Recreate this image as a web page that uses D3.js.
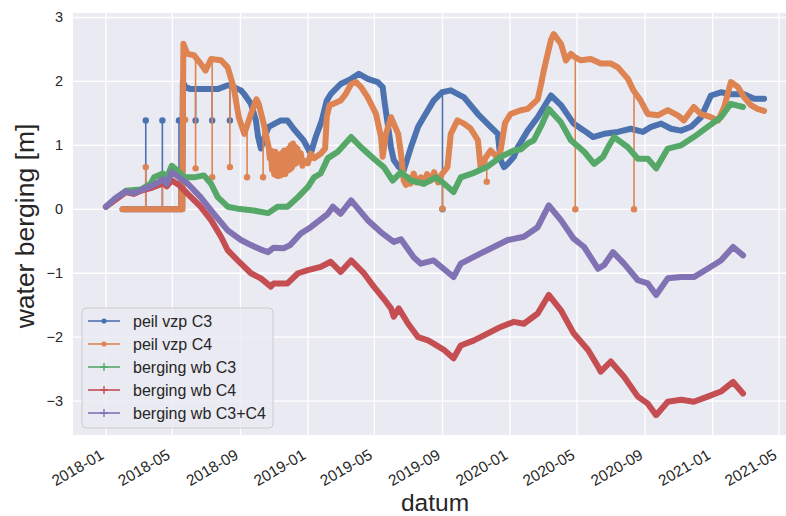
<!DOCTYPE html>
<html>
<head>
<meta charset="utf-8">
<script src="https://cdn.jsdelivr.net/npm/d3@7"></script>
<style>
  body { margin: 0; background: #fff; }
  text { font-family: "Liberation Sans", Arial, sans-serif; fill: #262626; }
</style>
</head>
<body>
<svg id="chart" width="786" height="516"></svg>
<script>
// Water level of the pumps (peil vzp) and storage of the water bodies (berging wb), metres
const peilC3 = [
  ["2018-01-31",0],["2018-05-19",0],["2018-05-20",1.99],["2018-05-25",1.91],["2018-06-03",1.88],
  ["2018-06-27",1.88],["2018-07-22",1.88],["2018-08-09",1.94],["2018-08-20",1.91],["2018-09-02",1.86],
  ["2018-09-08",1.80],["2018-09-20",1.65],["2018-09-29",1.39],["2018-10-03",1.13],["2018-10-08",0.95],
  ["2018-10-11",1.05],["2018-10-22",1.29],["2018-11-13",1.39],["2018-11-25",1.39],["2018-12-06",1.26],
  ["2018-12-24",1.08],["2019-01-06",0.87],["2019-01-15",1.13],["2019-01-26",1.39],["2019-02-04",1.70],
  ["2019-02-11",1.80],["2019-03-01",1.96],["2019-03-20",2.04],["2019-04-03",2.12],["2019-04-19",2.04],
  ["2019-05-07",1.99],["2019-05-16",1.91],["2019-05-19",1.70],["2019-05-25",1.34],["2019-05-31",0.97],
  ["2019-06-05",0.77],["2019-06-14",0.66],["2019-06-23",0.61],["2019-07-06",0.97],["2019-07-19",1.29],
  ["2019-07-29",1.44],["2019-08-16",1.70],["2019-08-31",1.83],["2019-09-16",1.86],["2019-10-10",1.75],
  ["2019-11-04",1.49],["2019-11-27",1.29],["2019-12-10",1.18],["2019-12-15",0.77],["2019-12-21",0.66],
  ["2019-12-28",0.71],["2020-01-08",0.82],["2020-01-15",0.97],["2020-02-02",1.23],["2020-02-20",1.44],
  ["2020-03-15",1.78],["2020-04-02",1.63],["2020-04-25",1.34],["2020-05-14",1.23],["2020-05-30",1.13],
  ["2020-06-19",1.18],["2020-07-14",1.21],["2020-08-06",1.26],["2020-08-28",1.21],["2020-09-12",1.29],
  ["2020-09-30",1.34],["2020-10-18",1.26],["2020-11-05",1.23],["2020-11-23",1.29],["2020-12-11",1.44],
  ["2020-12-29",1.78],["2021-01-16",1.83],["2021-02-03",1.80],["2021-02-27",1.80],["2021-03-17",1.73],
  ["2021-04-04",1.73]
];
const peilC3Outliers = [
  ["2018-03-14",1.39],["2018-04-13",1.39],["2018-05-13",1.39],["2018-06-12",1.39],
  ["2018-07-12",1.39],["2018-08-13",1.39],["2019-09-01",0.0]
];

const peilC4 = [
  ["2018-01-31",0],["2018-05-19",0],["2018-05-20",1.40],["2018-05-21",2.59],["2018-05-28",2.43],
  ["2018-06-09",2.41],["2018-06-21",2.28],["2018-06-30",2.17],["2018-07-10",2.35],["2018-07-28",2.33],
  ["2018-08-09",2.22],["2018-08-20",1.90],["2018-08-29",1.44],["2018-09-08",1.18],["2018-09-20",1.49],
  ["2018-09-30",1.72],["2018-10-04",1.65],["2018-10-13",1.34],["2018-10-22",0.97],["2018-10-24",0.80],
  ["2018-10-26",0.92],["2018-10-28",0.62],["2018-10-30",0.88],["2018-11-01",0.55],["2018-11-03",0.90],
  ["2018-11-05",0.53],["2018-11-07",0.86],["2018-11-09",0.52],["2018-11-11",0.84],["2018-11-13",0.53],
  ["2018-11-15",0.88],["2018-11-17",0.55],["2018-11-19",0.92],["2018-11-21",0.55],["2018-11-23",0.90],
  ["2018-11-25",0.60],["2018-11-27",0.95],["2018-11-29",0.62],["2018-12-01",1.00],["2018-12-03",0.65],
  ["2018-12-05",1.03],["2018-12-07",0.70],["2018-12-09",0.98],["2018-12-11",0.72],["2018-12-13",0.95],
  ["2018-12-16",0.80],["2018-12-19",0.88],["2018-12-22",0.68],["2018-12-26",0.76],["2019-01-01",0.72],
  ["2019-01-06",0.87],["2019-01-12",0.80],["2019-01-24",0.87],["2019-02-01",0.95],["2019-02-04",1.45],
  ["2019-02-09",1.63],["2019-02-16",1.65],["2019-03-01",1.70],["2019-03-10",1.80],["2019-03-20",1.96],
  ["2019-03-29",1.99],["2019-04-07",1.91],["2019-04-19",1.75],["2019-05-04",1.49],["2019-05-13",1.13],
  ["2019-05-16",0.82],["2019-05-22",1.18],["2019-05-31",1.44],["2019-06-13",1.18],["2019-06-18",0.87],
  ["2019-06-23",0.45],["2019-06-27",0.38],["2019-07-01",0.50],["2019-07-05",0.40],["2019-07-11",0.56],
  ["2019-07-16",0.42],["2019-07-24",0.50],["2019-07-29",0.40],["2019-08-04",0.55],["2019-08-11",0.45],
  ["2019-08-17",0.58],["2019-08-24",0.42],["2019-08-31",0.55],["2019-09-10",0.66],["2019-09-16",1.18],
  ["2019-09-28",1.39],["2019-10-10",1.34],["2019-10-22",1.26],["2019-11-04",1.08],["2019-11-09",0.65],
  ["2019-11-15",0.77],["2019-11-27",0.92],["2019-12-10",0.80],["2019-12-15",0.92],["2019-12-23",1.35],
  ["2020-01-02",1.49],["2020-01-21",1.55],["2020-02-02",1.57],["2020-02-20",1.72],["2020-02-26",1.95],
  ["2020-03-02",2.17],["2020-03-15",2.65],["2020-03-20",2.74],["2020-04-02",2.59],["2020-04-11",2.33],
  ["2020-04-20",2.43],["2020-04-27",2.38],["2020-05-08",2.33],["2020-05-26",2.35],["2020-06-13",2.28],
  ["2020-07-01",2.28],["2020-07-14",2.22],["2020-08-01",2.04],["2020-08-11",1.86],["2020-08-24",1.70],
  ["2020-09-06",1.49],["2020-09-24",1.47],["2020-10-12",1.55],["2020-10-30",1.47],["2020-11-10",1.39],
  ["2020-11-28",1.60],["2020-12-11",1.49],["2020-12-29",1.44],["2021-01-11",1.39],["2021-01-22",1.60],
  ["2021-02-03",1.99],["2021-02-16",1.91],["2021-02-27",1.75],["2021-03-11",1.63],["2021-03-23",1.57],
  ["2021-04-04",1.54]
];
const peilC4Outliers = [
  ["2018-03-14",0.66],["2018-04-13",0.55],["2018-05-13",0.55],["2018-05-24",1.40],["2018-06-12",0.64],
  ["2018-07-12",0.50],["2018-08-13",0.66],["2018-09-13",0.50],["2018-10-12",0.50],["2019-09-01",0.01],
  ["2019-11-20",0.43],["2020-04-28",0.0],["2020-08-12",0.0]
];

const bergingC3 = [
  ["2018-01-01",0.04],["2018-02-06",0.29],["2018-03-05",0.31],["2018-03-23",0.40],["2018-03-29",0.50],
  ["2018-04-14",0.56],["2018-04-21",0.50],["2018-04-30",0.68],["2018-05-16",0.56],["2018-05-22",0.50],
  ["2018-06-09",0.50],["2018-06-27",0.53],["2018-07-10",0.40],["2018-07-22",0.19],["2018-08-02",0.10],
  ["2018-08-09",0.04],["2018-08-27",0.01],["2018-09-25",-0.02],["2018-10-21",-0.06],["2018-11-07",0.04],
  ["2018-11-25",0.04],["2018-12-14",0.19],["2019-01-01",0.35],["2019-01-12",0.50],["2019-01-24",0.56],
  ["2019-02-06",0.80],["2019-02-24",0.90],["2019-03-20",1.13],["2019-04-07",0.97],["2019-04-30",0.79],
  ["2019-05-18",0.66],["2019-06-03",0.45],["2019-06-18",0.58],["2019-07-06",0.45],["2019-07-30",0.40],
  ["2019-08-20",0.50],["2019-09-04",0.40],["2019-09-21",0.27],["2019-10-04",0.50],["2019-10-28",0.57],
  ["2019-11-22",0.67],["2019-12-15",0.82],["2020-01-08",0.92],["2020-01-21",0.94],["2020-02-02",1.03],
  ["2020-02-13",1.08],["2020-02-26",1.30],["2020-03-11",1.57],["2020-04-02",1.36],["2020-04-20",1.08],
  ["2020-05-14",0.90],["2020-06-01",0.71],["2020-06-17",0.82],["2020-06-26",0.97],["2020-07-07",1.13],
  ["2020-08-01",0.97],["2020-08-19",0.79],["2020-09-06",0.79],["2020-09-21",0.64],["2020-10-12",0.95],
  ["2020-11-05",1.00],["2020-11-28",1.13],["2020-12-23",1.29],["2021-01-16",1.44],["2021-02-03",1.65],
  ["2021-02-25",1.60]
];

const bergingC4 = [
  ["2018-01-01",0.04],["2018-02-06",0.27],["2018-02-20",0.24],["2018-03-05",0.29],["2018-03-23",0.33],
  ["2018-04-07",0.38],["2018-04-14",0.42],["2018-04-21",0.36],["2018-04-30",0.45],["2018-05-13",0.38],
  ["2018-05-22",0.30],["2018-06-21",0.04],["2018-07-10",-0.17],["2018-07-28",-0.43],["2018-08-09",-0.64],
  ["2018-08-27",-0.80],["2018-09-20",-1.00],["2018-10-08",-1.08],["2018-10-26",-1.21],["2018-10-31",-1.16],
  ["2018-11-25",-1.16],["2018-12-14",-1.00],["2019-01-01",-0.95],["2019-01-24",-0.90],["2019-02-11",-0.82],
  ["2019-03-01",-0.98],["2019-03-20",-0.80],["2019-04-12",-1.00],["2019-04-30",-1.21],["2019-05-18",-1.40],
  ["2019-05-31",-1.55],["2019-06-05",-1.68],["2019-06-14",-1.55],["2019-07-01",-1.79],["2019-07-19",-2.00],
  ["2019-08-06",-2.05],["2019-08-16",-2.10],["2019-09-04",-2.20],["2019-09-21",-2.33],["2019-10-04",-2.13],
  ["2019-10-28",-2.05],["2019-11-22",-1.94],["2019-12-15",-1.84],["2020-01-08",-1.76],["2020-01-26",-1.79],
  ["2020-02-20",-1.63],["2020-03-11",-1.34],["2020-04-02",-1.58],["2020-04-25",-1.94],["2020-05-21",-2.20],
  ["2020-06-08",-2.46],["2020-06-13",-2.54],["2020-07-01",-2.38],["2020-07-25",-2.62],["2020-08-19",-2.93],
  ["2020-09-06",-3.04],["2020-09-21",-3.22],["2020-10-12",-3.01],["2020-11-05",-2.98],["2020-11-28",-3.01],
  ["2020-12-23",-2.93],["2021-01-16",-2.85],["2021-02-07",-2.70],["2021-02-25",-2.88]
];

const bergingC3C4 = [
  ["2018-01-01",0.04],["2018-01-19",0.18],["2018-02-06",0.28],["2018-02-20",0.25],["2018-03-05",0.30],
  ["2018-03-23",0.36],["2018-04-07",0.43],["2018-04-14",0.47],["2018-04-21",0.40],["2018-04-30",0.58],
  ["2018-05-13",0.50],["2018-05-29",0.40],["2018-06-21",0.19],["2018-07-15",-0.07],["2018-08-09",-0.33],
  ["2018-09-02",-0.48],["2018-09-20",-0.56],["2018-10-08",-0.63],["2018-10-21",-0.67],["2018-10-31",-0.60],
  ["2018-11-18",-0.61],["2018-11-30",-0.56],["2018-12-19",-0.38],["2019-01-06",-0.28],["2019-02-06",-0.07],
  ["2019-02-15",0.04],["2019-03-01",-0.07],["2019-03-20",0.14],["2019-04-19",-0.17],["2019-05-13",-0.36],
  ["2019-06-05",-0.51],["2019-06-18",-0.47],["2019-07-11",-0.75],["2019-07-24",-0.85],["2019-08-16",-0.80],
  ["2019-09-21",-1.06],["2019-10-04",-0.85],["2019-11-09",-0.69],["2019-12-28",-0.48],["2020-01-26",-0.43],
  ["2020-02-20",-0.28],["2020-03-11",0.06],["2020-04-02",-0.17],["2020-04-25",-0.46],["2020-05-14",-0.59],
  ["2020-06-08",-0.93],["2020-06-19",-0.87],["2020-07-05",-0.67],["2020-07-25",-0.85],["2020-08-19",-1.11],
  ["2020-09-06",-1.16],["2020-09-21",-1.34],["2020-10-12",-1.08],["2020-11-05",-1.06],["2020-11-28",-1.06],
  ["2020-12-23",-0.93],["2021-01-16",-0.80],["2021-02-07",-0.59],["2021-02-25",-0.72]
];

const seriesNames = ["peil vzp C3", "peil vzp C4", "berging wb C3", "berging wb C4", "berging wb C3+C4"];
const seriesColors = ["#4C72B0", "#DD8452", "#55A868", "#C44E52", "#8172B3"];
const seriesMarkers = ["dot", "dot", "plus", "plus", "plus"];
const yTicks = [-3, -2, -1, 0, 1, 2, 3];

const parse = d3.utcParse("%Y-%m-%d");
const toPoints = arr => arr.map(([d, v]) => ({ date: parse(d), value: v }));

const series = [
  { main: toPoints(peilC3), outliers: toPoints(peilC3Outliers) },
  { main: toPoints(peilC4), outliers: toPoints(peilC4Outliers) },
  { main: toPoints(bergingC3), outliers: [] },
  { main: toPoints(bergingC4), outliers: [] },
  { main: toPoints(bergingC3C4), outliers: [] }
].map((s, i) => ({ ...s, name: seriesNames[i], color: seriesColors[i], marker: seriesMarkers[i] }));

const plot = { left: 73, top: 13, right: 797, bottom: 435 };

const svg = d3.select("#chart");

// x domain: data extent with 5% margins on both sides
const allDates = series.flatMap(s => s.main.map(p => p.date));
const [d0, d1] = d3.extent(allDates);
const pad = (d1 - d0) * 0.05;
const x = d3.scaleUtc()
  .domain([new Date(+d0 - pad), new Date(+d1 + pad)])
  .range([plot.left, plot.right]);
const y = d3.scaleLinear().domain([-3.53, 3.07]).range([plot.bottom, plot.top]);

svg.append("defs").append("clipPath").attr("id", "plotClip")
  .append("rect")
  .attr("x", plot.left).attr("y", plot.top)
  .attr("width", plot.right - plot.left).attr("height", plot.bottom - plot.top);

// axes background and grid
svg.append("rect")
  .attr("x", plot.left).attr("y", plot.top)
  .attr("width", plot.right - plot.left).attr("height", plot.bottom - plot.top)
  .attr("fill", "#EAEAF2");

const xTicks = x.ticks(d3.utcMonth.every(4));
const grid = svg.append("g").attr("stroke", "#fff").attr("stroke-width", 1.3);
grid.selectAll("line.gx").data(xTicks).join("line")
  .attr("x1", d => x(d)).attr("x2", d => x(d))
  .attr("y1", plot.top).attr("y2", plot.bottom);
grid.selectAll("line.gy").data(yTicks).join("line")
  .attr("x1", plot.left).attr("x2", plot.right)
  .attr("y1", d => y(d)).attr("y2", d => y(d));

// tick labels
const fmtMonth = d3.utcFormat("%Y-%m");
svg.append("g").selectAll("text").data(xTicks).join("text")
  .attr("transform", d => `translate(${x(d) - 1},${plot.bottom + 23}) rotate(-30)`)
  .attr("text-anchor", "end")
  .attr("font-size", 15.5)
  .text(fmtMonth);

const fmtY = d3.format("d");
svg.append("g").selectAll("text").data(yTicks).join("text")
  .attr("x", plot.left - 10)
  .attr("y", d => y(d) + 5)
  .attr("text-anchor", "end")
  .attr("font-size", 14.5)
  .text(fmtY);

// axis titles
svg.append("text")
  .attr("transform", `translate(34,${(plot.top + plot.bottom) / 2 + 2}) rotate(-90)`)
  .attr("text-anchor", "middle")
  .attr("font-size", 26.5)
  .text("water berging [m]");
svg.append("text")
  .attr("x", (plot.left + plot.right) / 2)
  .attr("y", 511)
  .attr("text-anchor", "middle")
  .attr("font-size", 24.5)
  .text("datum");

// series
const band = d3.line().x(p => x(p.date)).y(p => y(p.value));
const bisect = d3.bisector(p => p.date).left;
function levelAt(points, date) {
  const i = bisect(points, date);
  if (i <= 0) return points[0].value;
  if (i >= points.length) return points[points.length - 1].value;
  const a = points[i - 1], b = points[i];
  const t = (date - a.date) / (b.date - a.date);
  return a.value + t * (b.value - a.value);
}

const marks = svg.append("g").attr("clip-path", "url(#plotClip)");
series.forEach(s => {
  const g = marks.append("g");
  // daily readings drawn densely -> wide band
  g.append("path")
    .datum(s.main)
    .attr("d", band)
    .attr("fill", "none")
    .attr("stroke", s.color)
    .attr("stroke-width", 6)
    .attr("stroke-linejoin", "round")
    .attr("stroke-linecap", "round");
  // isolated readings: thin connecting line plus point marker
  g.selectAll("line.out").data(s.outliers).join("line")
    .attr("x1", p => x(p.date)).attr("x2", p => x(p.date))
    .attr("y1", p => y(levelAt(s.main, p.date)))
    .attr("y2", p => y(p.value))
    .attr("stroke", s.color).attr("stroke-width", 1.6);
  g.selectAll("circle.out").data(s.outliers).join("circle")
    .attr("cx", p => x(p.date)).attr("cy", p => y(p.value))
    .attr("r", 3.2).attr("fill", s.color);
});

// legend
const legend = svg.append("g");
legend.append("rect")
  .attr("x", 82).attr("y", 308).attr("width", 191).attr("height", 120)
  .attr("rx", 4)
  .attr("fill", "#EAEAF2").attr("fill-opacity", 0.8)
  .attr("stroke", "#cccccc").attr("stroke-width", 1);
series.forEach((s, i) => {
  const cy = 321 + i * 23;
  const row = legend.append("g");
  row.append("line")
    .attr("x1", 88).attr("x2", 120).attr("y1", cy).attr("y2", cy)
    .attr("stroke", s.color).attr("stroke-width", 1.6);
  if (s.marker === "dot") {
    row.append("circle").attr("cx", 104).attr("cy", cy).attr("r", 2.6).attr("fill", s.color);
  } else {
    row.append("path")
      .attr("d", `M100,${cy}H108M104,${cy - 4}V${cy + 4}`)
      .attr("stroke", s.color).attr("stroke-width", 1.4);
  }
  row.append("text")
    .attr("x", 133).attr("y", cy + 5.5)
    .attr("font-size", 16)
    .text(s.name);
});
</script>
</body>
</html>
